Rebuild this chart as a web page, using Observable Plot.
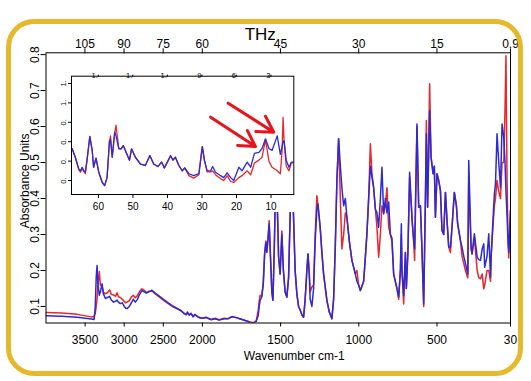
<!DOCTYPE html>
<html><head><meta charset="utf-8">
<script src="https://cdn.jsdelivr.net/npm/d3@7"></script>
<script src="https://cdn.jsdelivr.net/npm/@observablehq/plot@0.6"></script>
<style>
body{margin:0;background:#fff;}
#wrap{position:relative;width:531px;height:381px;font-family:"Liberation Sans",Arial,sans-serif;}
#main{position:absolute;left:0;top:0;}
#inset{position:absolute;left:55px;top:62px;background:#fff;}
#border{position:absolute;left:6px;top:18.5px;width:517px;height:357.5px;box-sizing:border-box;border:5px solid #E6B92A;border-radius:28px;pointer-events:none;}
</style></head><body>
<div id="wrap"><div id="main"></div><div id="inset"></div><div id="border"></div></div>
<script>
// ---- main spectrum (wavenumber cm-1, absorbance) ----
const wavenumber = [4000,3800,3600,3420,3385,3370,3358,3347,3335,3318,3305,3283,3266,3240,3215,3186,3165,3135,3110,3092,3074,3050,3024,2999,2980,2964,2935,2909,2884,2858,2833,2807,2773,2744,2718,2689,2645,2603,2560,2497,2437,2386,2327,2272,2233,2208,2190,2170,2145,2120,2095,2060,2030,2000,
1976,1944,1919,1893,1861,1835,1810,1784,1759,1727,
1695,1675,1656,1643,1637,1631,1621,1611,1602,1594,
1588,1579,1573,1563,1556,1549,1541,1531,1522,1513,
1503,1492,1482,1471,1460,1449,1439,1428,1418,1407,
1396,1385,1375,1362,1353,1343,1332,1325,1317,1311,
1300,1289,1279,1268,1261,1247,1236,1225,1204,1189,
1172,1161,1150,1140,1129,1118,1108,1097,1086,1076,
1061,1044,1022,1012,1001,990,969,958,948,937,
926,916,905,894,884,873,862,852,841,830,
820,809,798,788,777,756,745,734,728,724,
713,702,696,686,675,659,649,643,628,617,
606,596,585,574,568,560,547,538,525,517,
510,500,489,478,468,457,446,436,425,414,
404,389,376,368,350,340,329,318,303,297,
282,276,261,243,233,222,211,201,195,180,
169,158,154,141,133,126,116,105,94,84,
73,65,59,52,46,41,36,30];
const redAbs = [0.083,0.082,0.078,0.071,0.072,0.08,0.10,0.12,0.165,0.197,0.16,0.154,0.14,0.135,0.138,0.146,0.133,0.132,0.128,0.138,0.127,0.125,0.12,0.114,0.11,0.112,0.116,0.126,0.131,0.124,0.13,0.14,0.149,0.145,0.139,0.142,0.143,0.135,0.128,0.117,0.108,0.1,0.094,0.088,0.081,0.078,0.085,0.076,0.081,0.073,0.078,0.072,0.069,0.068,
.07,.064,.067,.063,.067,.066,.071,.069,.065,.061,
.057,.055,.06,.09,.115,.131,.128,.165,.25,.282,
.25,.3,.339,.22,.14,.117,.25,.46,.4,.24,
.19,.31,.2,.14,.126,.18,.35,.48,.36,.2,
.135,.1,.09,.075,.07,.12,.2,.246,.2,.14,
.154,.16,.3,.408,.38,.32,.25,.19,.117,.085,
.066,.12,.27,.45,.566,.4,.26,.3,.36,.348,
.283,.228,.19,.2,.16,.144,.17,.237,.302,.4,
.552,.47,.43,.37,.32,.237,.3,.38,.36,.38,
.43,.32,.3,.28,.19,.15,.12,.2,.3,.2,
.107,.25,.15,.25,.46,.339,.283,.228,.6,.376,
.38,.256,.1,.4,.617,.376,.719,.515,.469,.49,
.348,.469,.45,.422,.311,.3,.417,.34,.265,.25,
.32,.417,.38,.33,.283,.24,.22,.2,.18,.45,
.26,.246,.29,.2,.18,.177,.19,.149,.16,.2,
.2,.17,.237,.33,.38,.4,.45,.42,.4,.5,
.5,.65,.797,.45,.3,.235,.3,.367];
const blueAbs = [0.074,0.073,0.070,0.065,0.064,0.10,0.18,0.214,0.16,0.131,0.14,0.163,0.135,0.122,0.125,0.128,0.118,0.112,0.115,0.118,0.112,0.108,0.11,0.1,0.095,0.094,0.1,0.11,0.12,0.112,0.119,0.132,0.144,0.141,0.137,0.14,0.145,0.137,0.13,0.12,0.11,0.102,0.095,0.088,0.08,0.077,0.083,0.076,0.08,0.071,0.077,0.071,0.068,0.067,
.069,.063,.066,.062,.066,.066,.072,.069,.066,.061,
.056,.054,.058,.075,.1,.117,.126,.16,.245,.278,
.251,.295,.33,.22,.14,.117,.25,.46,.4,.24,
.19,.30,.2,.14,.126,.18,.35,.48,.36,.2,
.135,.1,.09,.075,.07,.12,.2,.246,.19,.12,
.1,.15,.28,.37,.385,.32,.25,.19,.117,.085,
.066,.12,.27,.45,.566,.49,.43,.38,.4,.348,
.283,.228,.19,.17,.16,.144,.17,.237,.302,.4,
.49,.46,.43,.37,.36,.32,.4,.487,.357,.4,
.36,.39,.3,.29,.19,.15,.126,.2,.33,.2,
.13,.25,.15,.25,.473,.339,.283,.26,.607,.376,
.38,.256,.107,.4,.58,.376,.644,.515,.469,.49,
.348,.469,.45,.422,.311,.3,.417,.34,.265,.265,
.32,.417,.38,.33,.283,.265,.24,.219,.19,.506,
.265,.246,.302,.237,.23,.228,.26,.274,.209,.24,
.302,.181,.237,.35,.413,.441,.58,.5,.43,.607,
.57,.5,.42,.35,.28,.25,.3,.367];

// ---- axes of main chart ----
const bottomTicks = [3500,3000,2500,2000,1500,1000,500,30];
const thzTicks = [105,90,75,60,45,30,15,0.9];
const thzLabels = ["105","90","75","60","45","30","15","0.9"];
const yTicks = [0.1,0.2,0.3,0.4,0.5,0.6,0.7,0.8];
const CM_PER_THZ = 33.356;
// the instrument compresses the region above 2000 cm-1 by a factor 2
const BREAK = 2000, COMPRESS = 2;
const cx = w => (w > BREAK ? BREAK + (w - BREAK) / COMPRESS : w);
const uncx = u => (u > BREAK ? BREAK + (u - BREAK) * COMPRESS : u);

// ---- inset (far-IR, cm-1) ----
const insetWn = [67.6,66.7,65.7,65.2,64.7,64.3,63.8,63.3,62.5,61.8,61.4,60.7,59.9,58.9,58.2,57.5,56.8,56.5,56.0,55.3,54.9,54.1,53.4,52.8,52.2,51.0,50.4,49.3,47.8,46.4,45.1,44.0,42.8,41.7,40.9,39.1,38.4,37.7,36.7,35.7,35.0,33.8,32.4,30.9,30.4,29.9,29.3,28.5,27.5,26.9,26.1,24.6,23.7,22.7,21.7,20.8,19.3,18.4,16.9,15.9,14.8,13.5,12.6,11.6,10.6,9.7,8.2,7.3,6.8,6.5,6.2,5.6,4.8,4.1,3.4];
const insetRed = [.527,.44,.31,.286,.33,.3,.27,.41,.654,.51,
.337,.43,.286,.18,.145,.23,.6,.66,.44,.68,
.77,.527,.527,.56,.51,.41,.527,.44,.37,.355,
.458,.37,.344,.39,.33,.45,.41,.44,.355,.30,
.33,.25,.225,.26,.41,.55,.41,.29,.29,.30,
.26,.22,.2,.25,.19,.18,.23,.25,.30,.26,
.38,.41,.44,.62,.40,.337,.30,.27,.5,.85,
.6,.35,.30,.38,.39];
const insetBlue = [.527,.44,.32,.30,.337,.3,.29,.41,.654,.51,
.337,.43,.286,.18,.15,.23,.61,.62,.44,.70,
.66,.53,.527,.56,.51,.41,.527,.44,.37,.355,
.458,.37,.344,.39,.33,.458,.41,.44,.355,.30,
.33,.27,.25,.27,.41,.55,.41,.30,.30,.344,
.286,.25,.23,.28,.23,.2,.337,.30,.39,.337,
.48,.49,.53,.63,.53,.51,.66,.47,.55,.6,
.61,.41,.337,.39,.39];
const insetBottomTicks = [60,50,40,30,20,10];
const insetTopThz = [1.8,1.5,1.2,0.9,0.6,0.3];
const insetTopLabels = ["1.","1.","1.","9","6","3"];
const insetYTicks = [0.2,0.4,0.6,0.8,1.0,1.2];
const insetYLabels = ["0.","0.","0.","0.","1.","1."];
// annotation arrows (inset data units)
const arrowX1 = [27.5, 22.4], arrowY1 = [0.853, 0.997];
const arrowX2 = [14.5, 9.2],  arrowY2 = [0.55, 0.698];

const RED = "#e8262b", BLUE = "#2a2ad8";
const FONT = "Liberation Sans, Arial, Helvetica, sans-serif";

const mainData = wavenumber.map((w, i) => ({u: cx(w), red: redAbs[i], blue: blueAbs[i]}));
const thzU = thzTicks.map(t => cx(t * CM_PER_THZ));
const bottomU = bottomTicks.map(cx);

const W = 531, H = 381, mL = 45.5, mR = 21, mT = 52.3, mB = 58.5;
const mainPlot = Plot.plot({
  width: W, height: H,
  marginLeft: mL, marginRight: mR, marginTop: mT, marginBottom: mB,
  style: {fontFamily: FONT, fontSize: "12px", background: "transparent", color: "#000", overflow: "visible"},
  x: {domain: [cx(4000), 30], axis: null},
  y: {domain: [0.054, 0.805], axis: null},
  marks: [
    Plot.line(mainData, {x: "u", y: "red", stroke: RED, strokeWidth: 1.5, clip: true}),
    Plot.line(mainData, {x: "u", y: "blue", stroke: BLUE, strokeWidth: 1.5, clip: true}),
    Plot.frame({stroke: "#000", strokeWidth: 1}),
    Plot.axisX({anchor: "bottom", ticks: bottomU, tickSize: 4, tickPadding: 8, tickFormat: u => String(Math.round(uncx(u))), label: null, fontSize: 12}),
    Plot.axisX({anchor: "top", ticks: thzU, tickSize: 5, tickPadding: 0, tickFormat: u => thzLabels[thzU.indexOf(u)], label: null, fontSize: 12}),
    Plot.axisY({anchor: "left", ticks: yTicks, tickSize: 5, tickFormat: () => "", label: null}),
    Plot.text(yTicks, {y: d => d, text: d => d.toFixed(1), frameAnchor: "left", dx: -11.2, rotate: -90, textAnchor: "middle", lineAnchor: "middle", fontSize: 12}),
    Plot.text(["Absorbance Units"], {frameAnchor: "left", dx: -20.5, dy: -7, rotate: -90, textAnchor: "middle", lineAnchor: "middle", fontSize: 12}),
    Plot.text(["Wavenumber cm-1"], {frameAnchor: "bottom", dx: 16, dy: 33.5, lineAnchor: "middle", fontSize: 12}),
    Plot.text(["THz"], {frameAnchor: "top", dx: -18, dy: -18.6, lineAnchor: "middle", fontSize: 17})
  ]
});
document.getElementById("main").appendChild(mainPlot);

// ---- inset chart ----
const insetData = insetWn.map((w, i) => ({w, red: insetRed[i], blue: insetBlue[i]}));
const arrows = arrowX1.map((x1, i) => ({x1, y1: arrowY1[i], x2: arrowX2[i], y2: arrowY2[i]}));
const topWn = insetTopThz.map(t => t * CM_PER_THZ);
const iW = 245, iH = 150;
const insetPlot = Plot.plot({
  width: iW, height: iH,
  marginLeft: 16, marginRight: 6.7, marginTop: 13.7, marginBottom: 18,
  style: {fontFamily: FONT, fontSize: "10px", background: "#fff", color: "#000", overflow: "visible"},
  x: {domain: [67.8, 3.4], axis: null},
  y: {domain: [0.056, 1.275], axis: null},
  marks: [
    Plot.line(insetData, {x: "w", y: "red", stroke: RED, strokeWidth: 1.3, clip: true}),
    Plot.line(insetData, {x: "w", y: "blue", stroke: BLUE, strokeWidth: 1.3, clip: true}),
    Plot.frame({stroke: "#000", strokeWidth: 1}),
    Plot.axisX({anchor: "bottom", ticks: insetBottomTicks, tickSize: 4, tickPadding: 4, tickFormat: d => String(d), label: null, fontSize: 10}),
    Plot.axisX({anchor: "top", ticks: topWn, tickSize: 2, tickPadding: 0, tickFormat: () => "", label: null}),
    Plot.text(topWn, {x: d => d, text: (d, i) => insetTopLabels[i], frameAnchor: "top", textAnchor: "end", dx: -0.5, dy: -1, lineAnchor: "middle", fontSize: 7.5}),
    Plot.axisY({anchor: "left", ticks: insetYTicks, tickSize: 3, tickFormat: () => "", label: null}),
    Plot.text(insetYTicks, {y: d => d, text: (d, i) => insetYLabels[i], frameAnchor: "left", dx: -8, rotate: -90, textAnchor: "middle", lineAnchor: "middle", fontSize: 7.5}),
    Plot.arrow(arrows, {x1: "x1", y1: "y1", x2: "x2", y2: "y2", stroke: "#e8141c", strokeWidth: 3, headLength: 9})
  ]
});
document.getElementById("inset").appendChild(insetPlot);
</script>
</body></html>
